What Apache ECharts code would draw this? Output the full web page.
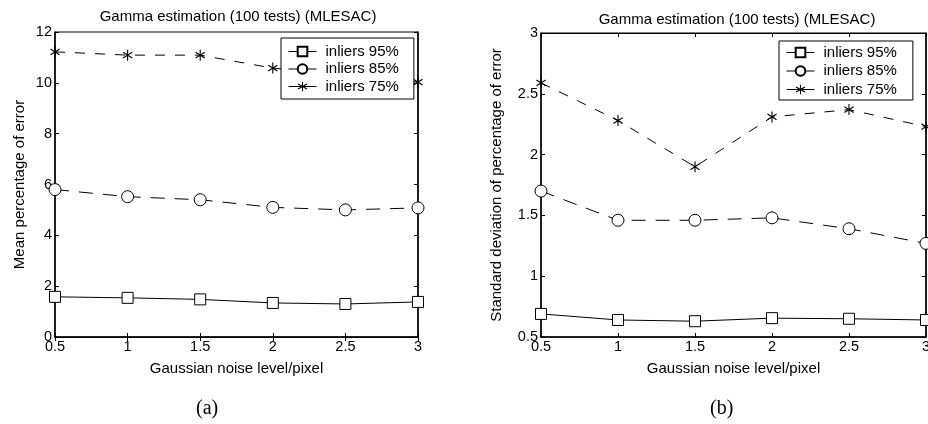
<!DOCTYPE html>
<html>
<head>
<meta charset="utf-8">
<script src="https://cdn.jsdelivr.net/npm/echarts@6/dist/echarts.min.js"></script>
<style>
html,body{margin:0;padding:0;background:#fff;}
#chart{width:928px;height:424px;}
</style>
</head>
<body>
<div id="chart"></div>
<script>
// ---- data ----
const noiseLevels = [0.5, 1, 1.5, 2, 2.5, 3];
const seriesNames = ['inliers 95%', 'inliers 85%', 'inliers 75%'];
// (a) Mean percentage of error
const meanInl95 = [1.58, 1.54, 1.48, 1.34, 1.30, 1.38];
const meanInl85 = [5.80, 5.52, 5.40, 5.10, 5.00, 5.08];
const meanInl75 = [11.22, 11.09, 11.09, 10.58, 10.30, 10.03];
// (b) Standard deviation of percentage of error
const stdInl95 = [0.69, 0.64, 0.63, 0.655, 0.65, 0.64];
const stdInl85 = [1.70, 1.46, 1.46, 1.48, 1.39, 1.27];
const stdInl75 = [2.59, 2.28, 1.90, 2.31, 2.37, 2.23];
const meanTicks = [0, 2, 4, 6, 8, 10, 12];
const stdTicks = [0.5, 1, 1.5, 2, 2.5, 3];
const noiseTicks = [0.5, 1, 1.5, 2, 2.5, 3];

const FONT = 'Liberation Sans, Arial, sans-serif';
const starPath = 'path://M-0.5,-5 L0.5,-5 L0.5,5 L-0.5,5 Z M-4.4,-2.2 L-3.9,-3.1 L4.4,2.2 L3.9,3.1 Z M3.9,-3.1 L4.4,-2.2 L-3.9,3.1 L-4.4,2.2 Z';

function pairs(vals){ return noiseLevels.map((x,i)=>[x, vals[i]]); }

const grids = [
  {left:55, top:32, width:363, height:305, show:true, borderColor:'#000', borderWidth:1, backgroundColor:'#fff', outerBoundsMode:'none', containLabel:false},
  {left:541, top:33, right:2, height:304, show:true, borderColor:'#000', borderWidth:1, backgroundColor:'#fff', outerBoundsMode:'none', containLabel:false}
];

function xAxisMain(gi){
  return {type:'value', gridIndex:gi, min:noiseTicks[0], max:noiseTicks[noiseTicks.length-1], interval:0.5,
    name:'Gaussian noise level/pixel', nameLocation:'middle', nameGap:24,
    nameTextStyle:{fontFamily:FONT, fontSize:15, color:'#000'},
    axisLine:{show:true, lineStyle:{color:'#000', width:1.5}},
    axisTick:{show:true, inside:true, length:4, lineStyle:{color:'#000'}},
    axisLabel:{fontFamily:FONT, fontSize:14.5, color:'#000', margin:2, showMinLabel:true, showMaxLabel:true},
    splitLine:{show:false}};
}
function xAxisTop(gi){
  return {type:'value', gridIndex:gi, position:'top', min:noiseTicks[0], max:noiseTicks[noiseTicks.length-1], interval:0.5,
    axisLine:{show:true, lineStyle:{color:'#000'}},
    axisTick:{show:true, inside:true, length:4, lineStyle:{color:'#000'}},
    axisLabel:{show:false}, splitLine:{show:false}};
}
function yAxisMain(gi, ticks, interval, name, gap){
  return {type:'value', gridIndex:gi, min:ticks[0], max:ticks[ticks.length-1], interval:interval,
    name:name, nameLocation:'middle', nameGap:gap,
    nameTextStyle:{fontFamily:FONT, fontSize:15, color:'#000'},
    axisLine:{show:true, lineStyle:{color:'#000', width:1.5}},
    axisTick:{show:true, inside:true, length:4, lineStyle:{color:'#000'}},
    axisLabel:{fontFamily:FONT, fontSize:14.5, color:'#000', margin:3, showMinLabel:true, showMaxLabel:true},
    splitLine:{show:false}};
}
function yAxisRight(gi, ticks, interval){
  return {type:'value', gridIndex:gi, position:'right', min:ticks[0], max:ticks[ticks.length-1], interval:interval,
    axisLine:{show:true, lineStyle:{color:'#000', width:1.5}},
    axisTick:{show:true, inside:true, length:4, lineStyle:{color:'#000'}},
    axisLabel:{show:false}, splitLine:{show:false}};
}

function mkSeries(name, vals, xi, yi, kind){
  const s = {name:name, type:'line', xAxisIndex:xi, yAxisIndex:yi, data:pairs(vals),
    lineStyle:{color:'#000', width:1}, itemStyle:{color:'#fff', borderColor:'#000', borderWidth:1},
    emphasis:{disabled:true}, animation:false, z:3, clip:false};
  if(kind===0){ s.symbol='rect'; s.symbolSize=11; }
  else if(kind===1){ s.symbol='circle'; s.symbolSize=12; s.lineStyle.type=[14,10]; }
  else { s.symbol=starPath; s.symbolSize=[11,11]; s.symbolKeepAspect=true;
    s.itemStyle={color:'#000', borderColor:'#000', borderWidth:0}; s.lineStyle.type=[10,10]; }
  return s;
}

function legendAt(left, top, gap, pad){
  return {orient:'vertical', left:left, top:top, data:seriesNames,
    backgroundColor:'#fff', borderColor:'#000', borderWidth:1, borderRadius:0,
    padding:pad, itemGap:gap, itemWidth:28, itemHeight:12,
    textStyle:{fontFamily:FONT, fontSize:15, color:'#000', padding:[0,0,0,4]},
    lineStyle:{type:'solid', width:1, color:'#000'},
    selectedMode:false, z:10};
}

const option = {
  backgroundColor:'#fff',
  animation:false,
  title:[
    {text:'Gamma estimation (100 tests) (MLESAC)', left:233, top:4, textAlign:'center',
     textStyle:{fontFamily:FONT, fontSize:15, fontWeight:'normal', color:'#000'}},
    {text:'Gamma estimation (100 tests) (MLESAC)', left:732, top:7, textAlign:'center',
     textStyle:{fontFamily:FONT, fontSize:15, fontWeight:'normal', color:'#000'}}
  ],
  legend:[legendAt(281, 38, 2.5, [6,15,5,7]), legendAt(779, 41, 3.5, [4,16,3,7])],
  grid:grids,
  xAxis:[xAxisMain(0), xAxisTop(0), xAxisMain(1), xAxisTop(1)],
  yAxis:[
    yAxisMain(0, meanTicks, 2, 'Mean percentage of error', 28), yAxisRight(0, meanTicks, 2),
    yAxisMain(1, stdTicks, 0.5, 'Standard deviation of percentage of error', 37), yAxisRight(1, stdTicks, 0.5)
  ],
  series:[
    mkSeries(seriesNames[0], meanInl95, 0, 0, 0),
    mkSeries(seriesNames[1], meanInl85, 0, 0, 1),
    mkSeries(seriesNames[2], meanInl75, 0, 0, 2),
    mkSeries(seriesNames[0], stdInl95, 2, 2, 0),
    mkSeries(seriesNames[1], stdInl85, 2, 2, 1),
    mkSeries(seriesNames[2], stdInl75, 2, 2, 2)
  ],
  graphic:[
    {type:'text', left:196, top:399, style:{text:'(a)', font:'20px "Liberation Serif", "Times New Roman", serif', fill:'#000'}},
    {type:'text', left:710, top:399, style:{text:'(b)', font:'20px "Liberation Serif", "Times New Roman", serif', fill:'#000'}}
  ]
};
const chart = echarts.init(document.getElementById('chart'), null, {renderer:'canvas'});
chart.setOption(option);
</script>
</body>
</html>
